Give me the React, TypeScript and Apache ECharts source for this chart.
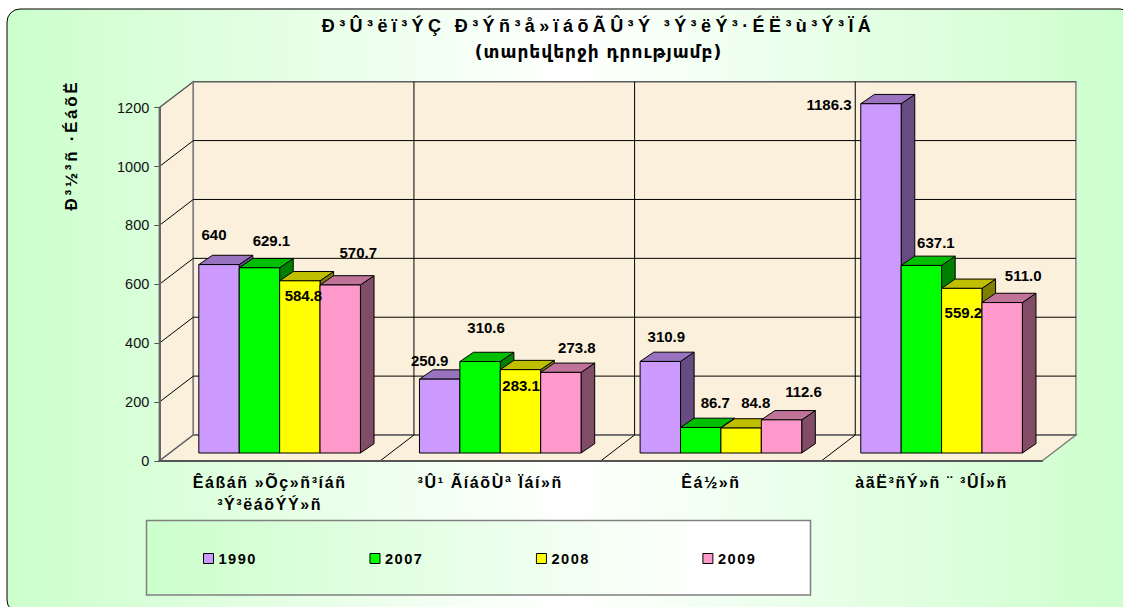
import React, { useEffect, useRef } from "react";
import * as echarts from "echarts";

const titleLine = "Ð³Û³ëï³ÝÇ Ð³Ýñ³å»ïáõÃÛ³Ý ³Ý³ëÝ³·ÉË³ù³Ý³ÏÁ";
const subtitleLine = "(տարեվերջի դրությամբ)";
const yAxisTitle = "Ð³½³ñ ·ÉáõË";
const categories = ["Êáßáñ »Õç»ñ³íáñ\n³Ý³ëáõÝÝ»ñ", "³Û¹ ÃíáõÙª Ïáí»ñ", "Êá½»ñ", "àãË³ñÝ»ñ ¨ ³ÛÍ»ñ"];
const years = ["1990", "2007", "2008", "2009"];
const values1990 = [640, 250.9, 310.9, 1186.3];
const values2007 = [629.1, 310.6, 86.7, 637.1];
const values2008 = [584.8, 283.1, 84.8, 559.2];
const values2009 = [570.7, 273.8, 112.6, 511.0];
const labels1990 = ["640", "250.9", "310.9", "1186.3"];
const labels2007 = ["629.1", "310.6", "86.7", "637.1"];
const labels2008 = ["584.8", "283.1", "84.8", "559.2"];
const labels2009 = ["570.7", "273.8", "112.6", "511.0"];
const yTicks = [0, 200, 400, 600, 800, 1000, 1200];

const seriesValues = [values1990, values2007, values2008, values2009];
const seriesLabels = [labels1990, labels2007, labels2008, labels2009];

// styling / placement
const FACE = ["#CC99FF", "#00FF00", "#FFFF00", "#FF99CC"];
const TOP = ["#9973BF", "#00BF00", "#BFBF00", "#BF7399"];
const SIDE = ["#664C80", "#008000", "#808000", "#804C66"];
const WALL = "#FBF0DC";
const WALL_DX = 34;
const WALL_DY = -26;
const BAR_SHIFT_X = 10;
const BAR_SHIFT_Y = -8;
const BAR_DX = 13.6;
const BAR_DY = -9.3;
const BAR_BAND = 0.1831;
// label nudges [series][category], relative to the centre of each bar's front top edge
const NUDGE = [
  [[-5, -30], [-10, -19], [6, -25], [-52, 1]],
  [[12, -27], [6, -34], [14.5, -25], [14.5, -23]],
  [[3.6, 15], [0.6, 16], [14.6, -26], [1.6, 24]],
  [[18, -32], [16, -25], [22, -28], [21, -27]],
];
const FONT = '"Liberation Sans", Arial, sans-serif';

function applySpacing(root: HTMLElement) {
  const spacing = new Map<string, string>();
  spacing.set(titleLine, "4.4px");
  spacing.set(subtitleLine, "1px");
  spacing.set(yAxisTitle, "2.7px");
  categories.forEach((c) => c.split("\n").forEach((line) => spacing.set(line, "1.6px")));
  years.forEach((y) => spacing.set(y, "1.5px"));
  root.querySelectorAll("text").forEach((el) => {
    const s = spacing.get((el.textContent || "").trim());
    if (s) el.style.letterSpacing = s;
  });
}

function wallsItem(_params: any, api: any) {
  const band = api.size([1, 0])[0];
  const yOf = (v: number) => api.coord([0, v])[1];
  const x0 = api.coord([0, 0])[0] - band / 2;
  const x1 = x0 + band * categories.length;
  const y0 = yOf(0);
  const yTop = yOf(yTicks[yTicks.length - 1]);
  const fill = { fill: WALL, stroke: "#808080", lineWidth: 1.5 };
  const children: any[] = [
    { type: "polygon", shape: { points: [[x0, y0], [x0 + WALL_DX, y0 + WALL_DY], [x0 + WALL_DX, yTop + WALL_DY], [x0, yTop]] }, style: fill },
    { type: "polygon", shape: { points: [[x0 + WALL_DX, y0 + WALL_DY], [x1 + WALL_DX, y0 + WALL_DY], [x1 + WALL_DX, yTop + WALL_DY], [x0 + WALL_DX, yTop + WALL_DY]] }, style: fill },
    { type: "polygon", shape: { points: [[x0, y0], [x1, y0], [x1 + WALL_DX, y0 + WALL_DY], [x0 + WALL_DX, y0 + WALL_DY]] }, style: fill },
  ];
  const line = { stroke: "#000", lineWidth: 1, fill: "none" };
  yTicks.forEach((t) => {
    const y = yOf(t);
    children.push({ type: "polyline", shape: { points: [[x0, y], [x0 + WALL_DX, y + WALL_DY], [x1 + WALL_DX, y + WALL_DY]] }, style: t === 0 || t === yTicks[yTicks.length - 1] ? { ...line, stroke: "#555" } : line });
  });
  categories.forEach((_c, i) => {
    if (i === 0) return;
    const x = x0 + band * i;
    children.push({ type: "polyline", shape: { points: [[x, y0], [x + WALL_DX, y0 + WALL_DY], [x + WALL_DX, yTop + WALL_DY]] }, style: line });
  });
  return { type: "group", children };
}

function barItem(s: number) {
  return (_params: any, api: any) => {
    const cat = api.value(0);
    const val = api.value(1);
    const w = api.size([1, 0])[0] * BAR_BAND;
    const cx = api.coord([cat, 0])[0];
    const l = cx + (s - 2) * w + BAR_SHIFT_X;
    const r = l + w;
    const b = api.coord([cat, 0])[1] + BAR_SHIFT_Y;
    const t = api.coord([cat, val])[1] + BAR_SHIFT_Y;
    const edge = { stroke: "#000", lineWidth: 1 };
    return {
      type: "group",
      children: [
        { type: "polygon", shape: { points: [[r, b], [r + BAR_DX, b + BAR_DY], [r + BAR_DX, t + BAR_DY], [r, t]] }, style: { fill: SIDE[s], ...edge } },
        { type: "polygon", shape: { points: [[l, t], [r, t], [r + BAR_DX, t + BAR_DY], [l + BAR_DX, t + BAR_DY]] }, style: { fill: TOP[s], ...edge } },
        { type: "rect", shape: { x: l, y: t, width: w, height: b - t }, style: { fill: FACE[s], ...edge } },
      ],
    };
  };
}

function labelItem(_params: any, api: any) {
  const cat = api.value(0);
  const s = api.value(1);
  const val = seriesValues[s][cat];
  const w = api.size([1, 0])[0] * BAR_BAND;
  const x = api.coord([cat, 0])[0] + (s - 1.5) * w + BAR_SHIFT_X + NUDGE[s][cat][0];
  const y = api.coord([cat, val])[1] + BAR_SHIFT_Y + NUDGE[s][cat][1];
  return {
    type: "text",
    x,
    y,
    style: { text: seriesLabels[s][cat], fill: "#000", font: `bold 15px ${FONT}`, align: "center", verticalAlign: "middle" },
  };
}

export default function App() {
  const ref = useRef<HTMLDivElement>(null);
  useEffect(() => {
    document.body.style.margin = "0";
    const chart = echarts.init(ref.current!, undefined, { renderer: "svg" });
    const hGrad = new echarts.graphic.LinearGradient(0, 0, 1, 0, [
      { offset: 0, color: "#CCFFCC" },
      { offset: 0.5, color: "#FFFFFF" },
      { offset: 1, color: "#CCFFCC" },
    ]);
    const legendGrad = new echarts.graphic.LinearGradient(0, 0, 1, 0, [
      { offset: 0, color: "#CCFFCC" },
      { offset: 0.85, color: "#FFFFFF" },
      { offset: 1, color: "#FFFFFF" },
    ]);
    chart.on("finished", () => applySpacing(ref.current!));
    chart.setOption({
      animation: false,
      backgroundColor: "#fff",
      title: {
        text: titleLine,
        subtext: subtitleLine,
        left: 593.5,
        top: 12,
        textAlign: "center",
        itemGap: 8,
        textStyle: { fontFamily: FONT, fontSize: 18, fontWeight: "bold", color: "#000" },
        subtextStyle: { fontFamily: '"DejaVu Sans"', fontSize: 17, fontWeight: "bold", color: "#000" },
      },
      graphic: [
        { type: "rect", z: -1, shape: { x: 7, y: 9, width: 1126, height: 604, r: 13 }, style: { fill: hGrad, stroke: "#000", lineWidth: 1 } },
        { type: "rect", z: -1, shape: { x: 146.5, y: 520.5, width: 664, height: 74.5 }, style: { fill: legendGrad, stroke: "#808080", lineWidth: 1.5 } },
        { type: "text", z: 5, x: 71, y: 145, rotation: Math.PI / 2, style: { text: yAxisTitle, fill: "#000", font: `bold 17px ${FONT}`, align: "center", verticalAlign: "middle" } },
      ],
      legend: {
        data: years,
        left: 198,
        top: 546,
        itemWidth: 10,
        itemHeight: 10,
        itemGap: 118.5,
        icon: "rect",
        itemStyle: { borderColor: "#000", borderWidth: 1 },
        textStyle: { fontFamily: FONT, fontSize: 14.6, fontWeight: "bold", color: "#000" },
      },
      grid: { left: 159.3, top: 107.7, width: 882.6, height: 353.3 },
      xAxis: {
        type: "category",
        data: categories,
        z: 5,
        axisLine: { lineStyle: { color: "#555", width: 2 } },
        axisTick: { alignWithLabel: false, length: 5, lineStyle: { color: "#808080", width: 2 } },
        axisLabel: { interval: 0, margin: 10, color: "#000", fontFamily: FONT, fontSize: 16, fontWeight: "bold", lineHeight: 22 },
      },
      yAxis: {
        type: "value",
        min: 0,
        max: 1200,
        interval: 200,
        z: 5,
        splitLine: { show: false },
        axisLine: { show: true, lineStyle: { color: "#666", width: 2 } },
        axisTick: { show: true, length: 5, lineStyle: { color: "#555", width: 1 } },
        axisLabel: { margin: 10, color: "#111", fontFamily: FONT, fontSize: 14.5, formatter: (v: number) => String(v) },
      },
      series: [
        { type: "custom", name: "walls", z: 1, silent: true, renderItem: wallsItem, data: [[0, 0]] },
        ...years.map((y, s) => ({
          type: "custom",
          name: y,
          z: 2 + s,
          renderItem: barItem(s),
          itemStyle: { color: FACE[s] },
          data: seriesValues[s].map((v, i) => [i, v]),
        })),
        {
          type: "custom",
          name: "labels",
          z: 10,
          silent: true,
          renderItem: labelItem,
          data: years.flatMap((_y, s) => categories.map((_c, i) => [i, s])),
        },
      ],
    });
    applySpacing(ref.current!);
    return () => chart.dispose();
  }, []);
  return <div ref={ref} style={{ width: 1123, height: 607 }} />;
}
